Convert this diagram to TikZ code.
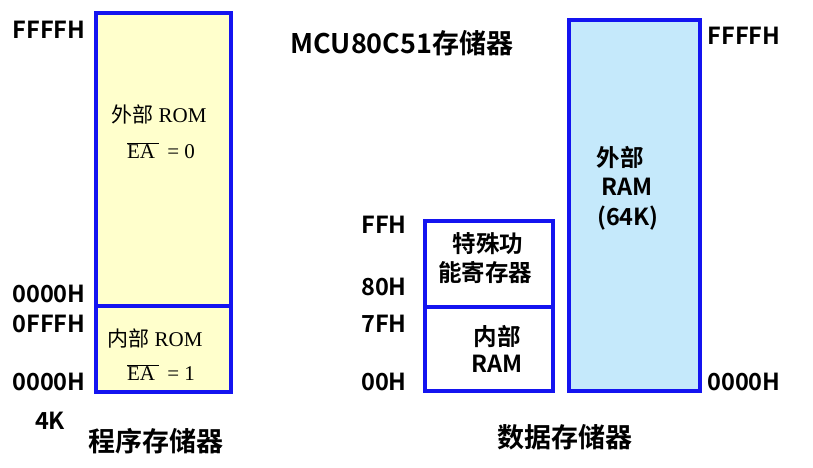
\documentclass[tikz,border=0pt]{standalone}
\usepackage{fontspec}
\setmainfont{Liberation Serif}
\newfontfamily\cjkb[BoldFont={Noto Sans CJK SC Bold}]{Noto Sans CJK SC}
\newfontfamily\cjkr{Noto Sans CJK SC}
\newfontfamily\serifr{Liberation Serif}
\definecolor{boxblue}{RGB}{20,20,240}
\definecolor{romfill}{RGB}{255,255,204}
\definecolor{ramfill}{RGB}{197,233,251}
\tikzset{
  mem/.style={draw=boxblue, line width=3.6pt},
  lbl/.style={font=\cjkb\bfseries\fontsize{23.5}{26}\selectfont, inner sep=0pt},
  ttl/.style={font=\cjkb\bfseries\fontsize{27}{30}\selectfont, inner sep=0pt},
  romt/.style={font=\serifr\fontsize{21}{24}\selectfont, inner sep=0pt},
}
\newcommand{\eabar}{$\overline{\hbox{\serifr EA\,}}$}
\begin{document}
\begin{tikzpicture}[x=1pt,y=-1pt]
\useasboundingbox (0,0) rectangle (813,468);
% program memory
\draw[mem, fill=romfill] (96,13) rectangle (231,392);
\draw[mem] (96,306) -- (231,306);
% data memory
\draw[mem] (425,221) rectangle (553,391);
\draw[mem] (425,307) -- (553,307);
\draw[mem, fill=ramfill] (569,20) rectangle (700,391);
% labels left
\node[lbl] (a1) at (49,30) {FFFFH};
\node[lbl] (a2) at (49,294) {0000H};
\node[lbl] (a3) at (49,324) {0FFFH};
\node[lbl] (a4) at (49,382) {0000H};
\node[lbl] (a5) at (50,421) {4K};
\node[ttl] (t1) at (156,441) {程序存储器};
\node[ttl] (t0) at (402,43) {MCU80C51存储器};
% ROM texts
\node[romt] (r1) at (159,114) {{\cjkr 外部} ROM};
\node[romt] (r2) at (161,151) {\eabar\ \,= 0};
\node[romt] (r3) at (155,338) {{\cjkr 内部} ROM};
\node[romt] (r4) at (161,373) {\eabar\ \,= 1};
% data labels
\node[lbl] (b1) at (384,225) {FFH};
\node[lbl] (b2) at (384,287) {80H};
\node[lbl] (b3) at (384,324) {7FH};
\node[lbl] (b4) at (384,382) {00H};
\node[lbl] (s1) at (488,244) {特殊功};
\node[lbl] (s2) at (485,273) {能寄存器};
\node[lbl] (i1) at (497,336) {内部};
\node[lbl] (i2) at (497,364) {RAM};
\node[lbl] (e1) at (620,157) {外部};
\node[lbl] (e2) at (627,187) {RAM};
\node[lbl] (e3) at (628,218) {(64K)};
\node[lbl] (c1) at (744,36) {FFFFH};
\node[lbl] (c2) at (744,382) {0000H};
\node[ttl] (t2) at (565,437) {数据存储器};
\end{tikzpicture}
\end{document}
